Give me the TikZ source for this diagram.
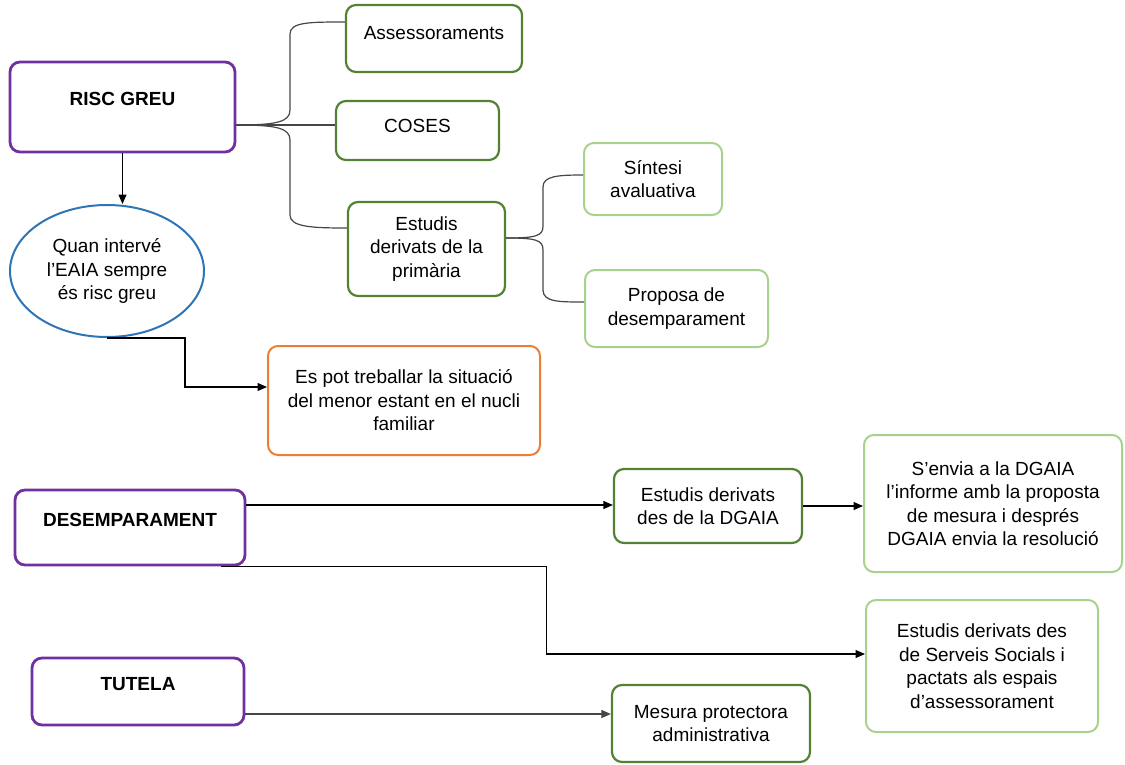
\documentclass[tikz,border=0pt]{standalone}
\usepackage{fontspec}
\setmainfont{Liberation Sans}
\usetikzlibrary{arrows.meta,shapes.geometric}
\definecolor{violeta}{RGB}{112,48,160}
\definecolor{verd}{RGB}{84,130,53}
\definecolor{verdclar}{RGB}{169,209,142}
\definecolor{blau}{RGB}{46,117,182}
\definecolor{taronja}{RGB}{237,125,49}
\definecolor{gris}{RGB}{70,70,70}
\tikzset{
    base/.style={draw, rounded corners=10pt, align=center, inner sep=2pt, font=\fontsize{19}{23.5}\selectfont},
    mainbox/.style={base, draw=violeta, line width=2.8pt, font=\fontsize{19}{23.5}\selectfont\bfseries, text height=14pt},
    greenbox/.style={base, draw=verd, line width=2.2pt},
    lightbox/.style={base, draw=verdclar, line width=2pt},
    link/.style={line width=1.1pt, -{Triangle[length=9.5pt,width=8pt]}},
    brace/.style={line width=1.2pt, draw=gris},
}
\begin{document}
\begin{tikzpicture}[x=1pt, y=-1pt]
    \useasboundingbox (0,0) rectangle (1125,764);

    % risc greu
    \node[mainbox, minimum width=225, minimum height=90, text depth=18pt] (riscgreu) at (122.5,107) {RISC GREU};
    \node[greenbox, minimum width=176, minimum height=67, text height=14pt, text depth=13pt] (assess) at (434,38.5) {Assessoraments};
    \node[greenbox, minimum width=163, minimum height=59, text height=14pt, text depth=11pt] (coses) at (417.5,130.5) {COSES};
    \node[greenbox, minimum width=157, minimum height=94] (estprim) at (426.5,249) {Estudis\\derivats de la\\primària};
    \node[lightbox, minimum width=138, minimum height=72] (sintesi) at (653,179) {Síntesi\\avaluativa};
    \node[lightbox, minimum width=183, minimum height=77] (proposa) at (676.5,308.5) {Proposa de\\desemparament};
    \node[ellipse, draw=blau, line width=2pt, minimum width=194, minimum height=132, align=center, inner sep=1pt, font=\fontsize{19}{23.5}\selectfont] (eaia) at (107,271) {Quan intervé\\l’EAIA sempre\\és risc greu};
    \node[base, draw=taronja, line width=2pt, minimum width=272, minimum height=109] (nucli) at (404,400.5) {Es pot treballar la situació\\del menor estant en el nucli\\familiar};

    % desemparament
    \node[mainbox, minimum width=230, minimum height=75, text depth=17pt] (desemp) at (130,527.5) {DESEMPARAMENT};
    \node[greenbox, minimum width=188, minimum height=74] (estdgaia) at (708,506) {Estudis derivats\\des de la DGAIA};
    \node[lightbox, minimum width=258, minimum height=137] (senvia) at (993,503.5) {S’envia a la DGAIA\\l’informe amb la proposta\\de mesura i després\\DGAIA envia la resolució};
    \node[lightbox, minimum width=232, minimum height=132] (serveis) at (982,666) {Estudis derivats des\\de Serveis Socials i\\pactats als espais\\d’assessorament};

    % tutela
    \node[mainbox, minimum width=212, minimum height=67, text depth=17pt] (tutela) at (138,691.5) {TUTELA};
    \node[greenbox, minimum width=198, minimum height=77] (mesura) at (711,723.5) {Mesura protectora\\administrativa};

    % claus
    \draw[brace] ([yshift=-18pt]riscgreu.east) .. controls +(40,0) and +(0,12) .. (290,110) -- (290,34) .. controls +(0,-12) and +(-35,0) .. ([yshift=16.5pt]assess.west);
    \draw[brace] ([yshift=-18pt]riscgreu.east) -- ([yshift=5.5pt]coses.west);
    \draw[brace] ([yshift=-18pt]riscgreu.east) .. controls +(40,0) and +(0,-12) .. (290,140) -- (290,215) .. controls +(0,12) and +(-35,0) .. ([yshift=21pt]estprim.west);
    \draw[brace] ([yshift=11pt]estprim.east) .. controls +(30,0) and +(0,10) .. (543,226) -- (543,187) .. controls +(0,-11) and +(-25,0) .. ([yshift=4pt]sintesi.west);
    \draw[brace] ([yshift=11pt]estprim.east) .. controls +(30,0) and +(0,-10) .. (543,250) -- (543,290) .. controls +(0,12) and +(-25,0) .. ([yshift=6.5pt]proposa.west);

    % fletxes
    \draw[link] (riscgreu.south) -- (riscgreu.south |- eaia.north);
    \draw[link] (eaia.south) -- ++(78,0) |- ([yshift=13.5pt]nucli.west);
    \draw[link] ([yshift=22.5pt]desemp.east) -- ([yshift=22.5pt]desemp.east -| estdgaia.west);
    \draw[link] (estdgaia.east) -- (estdgaia.east -| senvia.west);
    \draw[link] ([xshift=-25pt]desemp.south east) -- ++(325,0) |- ([yshift=12pt]serveis.west);
    \draw[link, draw=gris] ([yshift=-22.5pt]tutela.east) -- ([yshift=-22.5pt]tutela.east -| mesura.west);
\end{tikzpicture}
\end{document}
